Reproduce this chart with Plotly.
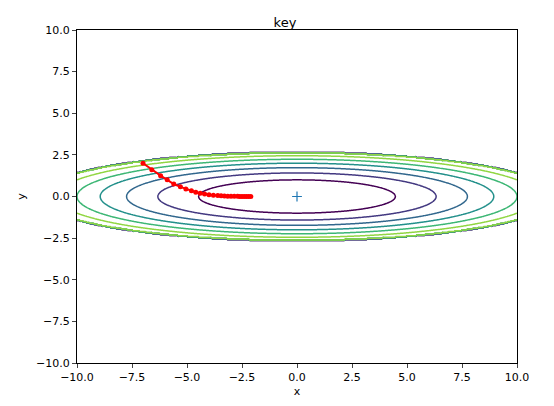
import numpy as np
import plotly.graph_objects as go

# objective surface f(x, y) = x^2/20 + y^2 on a grid, masked above 7
grid_x = np.arange(-10, 10.01, 0.05)
grid_y = np.arange(-10, 10.01, 0.05)
levels_start, levels_end, levels_step = 1, 7, 1

# optimizer path
path_x = [-7.0, -6.6, -6.2, -5.9, -5.6, -5.3, -5.05, -4.8, -4.6, -4.4, -4.2, -4.0,
          -3.8, -3.6, -3.45, -3.3, -3.15, -3.0, -2.85, -2.7, -2.6, -2.5, -2.4,
          -2.3, -2.2, -2.1]
path_y = [2.0, 1.6, 1.25, 1.0, 0.75, 0.58, 0.45, 0.34, 0.26, 0.2, 0.15, 0.11,
          0.08, 0.06, 0.04, 0.03, 0.02, 0.015, 0.01, 0.008, 0.005, 0.004, 0.003,
          0.002, 0.001, 0.0]

X, Y = np.meshgrid(grid_x, grid_y)
Z = X**2 / 20.0 + Y**2
Z[Z > 7] = 0

viridis = [[0, "#440154"], [0.14, "#46327e"], [0.29, "#365c8d"], [0.43, "#277f8e"],
           [0.57, "#1fa187"], [0.71, "#4ac16d"], [0.86, "#a0da39"], [1, "#fde725"]]

fig = go.Figure()
fig.add_trace(go.Contour(
    x=grid_x, y=grid_y, z=Z, zmin=0, zmax=7,
    contours=dict(start=levels_start, end=levels_end, size=levels_step, coloring="lines"),
    colorscale=viridis, showscale=False, line=dict(width=1.5), hoverinfo="skip",
))
fig.add_trace(go.Scatter(
    x=path_x, y=path_y, mode="lines+markers",
    line=dict(color="red", width=2), marker=dict(color="red", size=5, symbol="circle"),
))
fig.add_trace(go.Scatter(
    x=[0], y=[0], mode="markers",
    marker=dict(symbol="cross-thin", size=7, line=dict(color="#1f77b4", width=1.2)),
))

axis = dict(showline=True, linecolor="black", linewidth=1, mirror=True, ticks="outside",
            ticklen=4, showgrid=False, zeroline=False, tickfont=dict(size=11, color="black"),
            tick0=-10, dtick=2.5, tickformat=".1f")
fig.update_layout(
    width=554, height=406, showlegend=False,
    margin=dict(l=61, r=45, t=22, b=51),
    paper_bgcolor="white", plot_bgcolor="white",
    font=dict(family="DejaVu Sans", color="black"),
    title=dict(text="key", x=0.5, xanchor="center", y=0.975, font=dict(size=13)),
    xaxis=dict(axis, range=[-10, 10], title=dict(text="x", standoff=4, font=dict(size=11))),
    yaxis=dict(axis, range=[-10, 10], title=dict(text="y", standoff=8, font=dict(size=11))),
)
fig.write_html("out.html")
